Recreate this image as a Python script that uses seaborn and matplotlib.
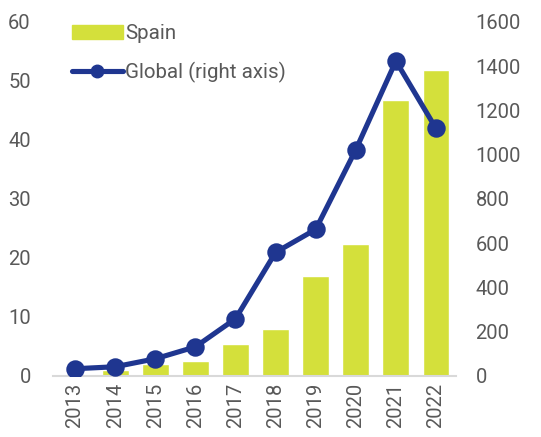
import matplotlib
matplotlib.use('Agg')
import matplotlib.pyplot as plt
import pandas as pd
import seaborn as sns
from matplotlib.lines import Line2D
from matplotlib.patches import Patch

# ----------------- data -----------------
years = ['2013', '2014', '2015', '2016', '2017', '2018', '2019', '2020', '2021', '2022']
spain = [0.0, 1.0, 2.0, 2.5, 5.4, 8.0, 17.0, 22.4, 46.7, 51.8]
global_vals = [32, 41, 77, 131, 258, 558, 662, 1022, 1423, 1118]

bar_color = '#D4E03B'
line_color = '#1F3690'
text_color = '#595959'

df = pd.DataFrame({'year': years, 'Spain': spain, 'Global': global_vals})

sns.set_style('white')
plt.rcParams['font.family'] = ['Roboto', 'DejaVu Sans']

fig, ax = plt.subplots(figsize=(5.41, 4.37), dpi=100)
fig.subplots_adjust(left=0.098, right=0.843, top=0.95, bottom=0.14)

# bars for Spain (left axis)
sns.barplot(data=df, x='year', y='Spain', color=bar_color, width=0.67,
            saturation=1, ax=ax)
ax.set_ylim(0, 60)
ax.set_yticks(range(0, 61, 10))

# line for global (right axis)
ax2 = ax.twinx()
sns.pointplot(data=df, x='year', y='Global', color=line_color, ax=ax2,
              markers='o', markersize=10.5, linewidth=3.7)
ax2.set_ylim(0, 1600)
ax2.set_yticks(range(0, 1601, 200))

for a in (ax, ax2):
    a.set_xlabel('')
    a.set_ylabel('')
    for s in a.spines.values():
        s.set_visible(False)
    a.tick_params(length=0, labelsize=14.5, colors=text_color)
ax.spines['bottom'].set_visible(True)
ax.spines['bottom'].set_color('#D9D9D9')
ax.spines['bottom'].set_linewidth(1.5)
ax.set_xlim(-0.55, 9.5)
ax.tick_params(axis='x', rotation=90, pad=5)
ax.tick_params(axis='y', pad=16)
ax2.tick_params(axis='y', pad=14)

handles = [Patch(color=bar_color, label='Spain'),
           Line2D([0], [0], color=line_color, lw=3.7, marker='o', markersize=9,
                  label='Global (right axis)')]
leg = ax.legend(handles=handles, loc='upper left', bbox_to_anchor=(0.0, 1.045),
                frameon=False, fontsize=14.8, handlelength=2.5, handletextpad=0.1,
                labelspacing=0.9, labelcolor=text_color)

fig.savefig('out.png', dpi=100)
